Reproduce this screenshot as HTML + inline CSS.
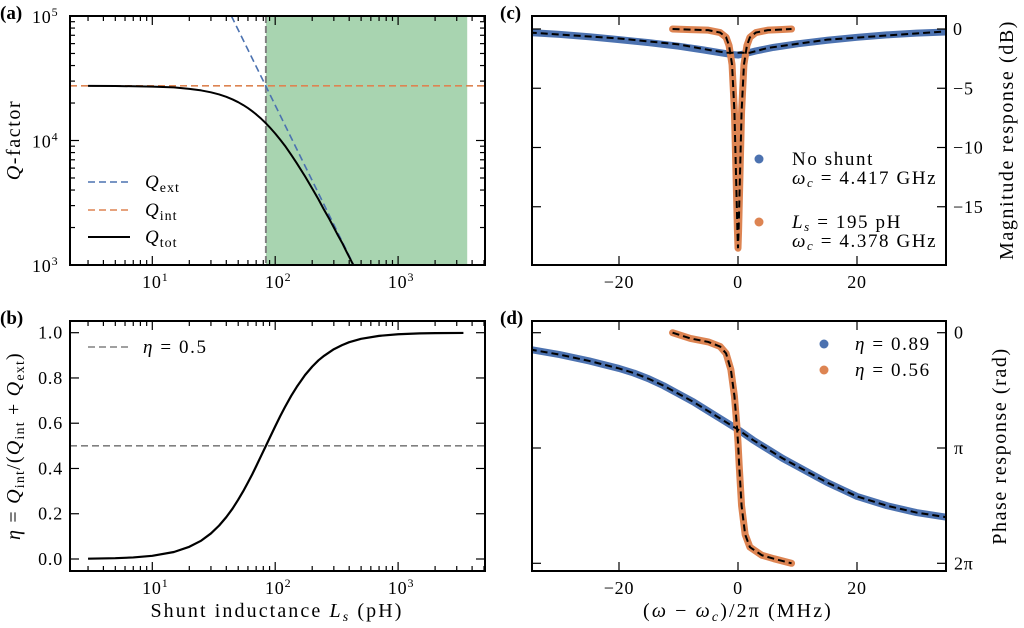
<!DOCTYPE html>
<html><head><meta charset="utf-8">
<style>
html,body{margin:0;padding:0;background:#fff;}
svg{display:block;font-family:"Liberation Serif","DejaVu Serif",serif;}
</style></head>
<body>
<svg id="fig" width="1024" height="628" viewBox="0 0 1024 628" xmlns="http://www.w3.org/2000/svg"></svg>
<script>
// ---------- data ----------
const qtotLs = [3,5,10,15,20,25,30,35,40,45,50,55,60,65,70,77,84,90,100,110,120,135,150,175,200,225,250,275,300,325,350,375,400,432];
const qtotVals = [27465,27400,27115,26700,25980,25250,24380,23450,22430,21370,20310,19250,18210,17200,16230,14940,13750,12800,11380,10130,9080,7675,6560,5150,4120,3365,2770,2350,2000,1720,1510,1314,1160,1000];
const qextLs = [44,435];
const qextVals = [100000,1000];
const qintVal = 27500;
const criticalLs = 84;
const bandEndLs = 3650;
const etaLs = [3,5,7,10,15,20,25,30,35,40,45,50,55,60,65,70,77,84,90,100,110,120,135,150,175,200,225,250,300,350,400,500,700,1000,1500,2000,3400];
const etaVals = [0.0013,0.0035,0.0069,0.014,0.031,0.054,0.081,0.113,0.148,0.185,0.223,0.262,0.30,0.338,0.374,0.41,0.457,0.5,0.534,0.586,0.632,0.671,0.721,0.761,0.813,0.85,0.878,0.898,0.927,0.945,0.958,0.973,0.986,0.993,0.997,0.998,0.999];
const etaRef = 0.5;
const blueMagX = [-35,-30,-25,-20,-15,-10,-6,-3,-1,0,1,3,6,10,15,20,25,30,35];
const blueMag = [-0.3,-0.45,-0.65,-0.9,-1.15,-1.45,-1.75,-2.0,-2.15,-2.2,-2.1,-1.85,-1.55,-1.25,-0.95,-0.7,-0.5,-0.35,-0.25];
const blueFitX = [-35,-20,-10,-4.5,-2,2,5,15,35];
const blueFit = [-0.3,-0.8,-1.3,-1.8,-2.0,-2.0,-1.6,-0.9,-0.2];
const orMagX = [-11,-8,-5,-3,-2,-1.5,-1,-0.6,-0.3,-0.1,0,0.1,0.3,0.6,1,1.5,2,3,5,7,9];
const orMag = [0,-0.05,-0.1,-0.3,-0.7,-1.4,-3,-7,-13,-17,-18.5,-17,-13,-7,-3,-1.4,-0.7,-0.3,-0.1,-0.05,0];
const bluePhX = [-35,-30,-25,-20,-17.5,-15,-12.5,-10,-7.5,-5,-2.5,0,2.5,5,7.5,10,12.5,15,17.5,20,25,30,35];
const bluePh = [0.145,0.19,0.245,0.31,0.35,0.4,0.46,0.53,0.6,0.68,0.76,0.84,0.93,1.01,1.09,1.16,1.23,1.3,1.36,1.42,1.5,1.56,1.6];
const orPhX = [-11,-8,-5,-3,-2,-1.2,-0.6,-0.2,0,0.2,0.6,1.2,2,4,6,9];
const orPh = [0,0.05,0.08,0.12,0.18,0.32,0.55,0.8,0.95,1.15,1.5,1.75,1.86,1.93,1.96,2.0];
const xTicksC = [-20,0,20];
const xTickLabelsC = ["\u221220","0","20"];
const yTicksC = [0,-5,-10,-15];
const yTickLabelsC = ["0","\u22125","\u221210","\u221215"];
const yTicksB = [0,0.2,0.4,0.6,0.8,1.0];
const yTickLabelsB = ["0.0","0.2","0.4","0.6","0.8","1.0"];
const yTicksD = [0,1,2];
const yTickLabelsD = ["0","\u03c0","2\u03c0"];

// ---------- scales ----------
const BLUE="#4c72b0", ORANGE="#dd8452";
const lx = L => 152.3 + (Math.log10(L)-1)*122.9;
const ayQ = Q => 265 - (Math.log10(Q)-3)*124.5;
const byE = e => 559 - e*226.3;
const cx = f => 738 + f*5.95;
const cyM = d => 29 - d*11.85;
const dyP = p => 332.7 + p*115.3;
const P = {a:{l:70,r:485,t:16,b:265}, b:{l:70,r:485,t:321,b:571}, c:{l:532,r:946,t:16,b:265}, d:{l:532,r:946,t:321,b:571}};
const TF = 18, TLS = 0.8;
const LF = 19, LLS = 1.6;

const NS="http://www.w3.org/2000/svg";
const svg=document.getElementById('fig');
function el(tag, parent){const e=document.createElementNS(NS,tag);(parent||svg).appendChild(e);return e;}
function set(e,o){for(const k in o)e.setAttribute(k,o[k]);return e;}
function pts(xs,ys,fx,fy){return xs.map((x,i)=>fx(x).toFixed(2)+','+fy(ys[i]).toFixed(2)).join(' ');}

const defs=el('defs');
for(const k in P){const c=el('clipPath',defs);set(c,{id:'clip-'+k});const r=el('rect',c);set(r,{x:P[k].l,y:P[k].t,width:P[k].r-P[k].l,height:P[k].b-P[k].t});}

function text(str,x,y,opts,parent){const t=el('text',parent);set(t,Object.assign({x:x,y:y,'font-size':TF,'letter-spacing':TLS,fill:'#000'},opts||{}));t.textContent=str;return t;}
function line(x1,y1,x2,y2,parent,extra){const l=el('line',parent);set(l,Object.assign({x1:x1,y1:y1,x2:x2,y2:y2,stroke:'#000','stroke-width':1.2},extra||{}));return l;}

// ---------- panel (a) ----------
const ga=el('g');
const gaClip=el('g',ga);set(gaClip,{'clip-path':'url(#clip-a)'});
const band=el('rect',gaClip);set(band,{x:lx(criticalLs),y:P.a.t,width:lx(bandEndLs)-lx(criticalLs),height:P.a.b-P.a.t,fill:'#a8d4b0'});

const vcrit=line(lx(criticalLs),P.a.t,lx(criticalLs),P.a.b,gaClip,{stroke:'#808080','stroke-width':2,'stroke-dasharray':'7,3'});

const qint=line(P.a.l,ayQ(qintVal),P.a.r,ayQ(qintVal),gaClip,{stroke:ORANGE,'stroke-width':1.6,'stroke-dasharray':'7,4'});

const qext=el('polyline',gaClip);set(qext,{points:pts(qextLs,qextVals,lx,ayQ),fill:'none',stroke:BLUE,'stroke-width':1.6,'stroke-dasharray':'7,4'});

const qtot=el('polyline',gaClip);set(qtot,{points:pts(qtotLs,qtotVals,lx,ayQ),fill:'none',stroke:'#000','stroke-width':2,'stroke-linejoin':'round'});


// ---------- panel (b) ----------
const gb=el('g');
const gbClip=el('g',gb);set(gbClip,{'clip-path':'url(#clip-b)'});
const eref=line(P.b.l,byE(etaRef),P.b.r,byE(etaRef),gbClip,{stroke:'#808080','stroke-width':1.6,'stroke-dasharray':'7,4'});

const ecur=el('polyline',gbClip);set(ecur,{points:pts(etaLs,etaVals,lx,byE),fill:'none',stroke:'#000','stroke-width':2.2,'stroke-linejoin':'round'});


// ---------- panel (c) ----------
const gc=el('g');
const gcClip=el('g',gc);set(gcClip,{'clip-path':'url(#clip-c)'});
const bm=el('polyline',gcClip);set(bm,{points:pts(blueMagX,blueMag,cx,cyM),fill:'none',stroke:BLUE,'stroke-width':7,'stroke-linejoin':'round'});

const om=el('polyline',gcClip);set(om,{points:pts(orMagX,orMag,cx,cyM),fill:'none',stroke:ORANGE,'stroke-width':7,'stroke-linejoin':'round','stroke-linecap':'round'});

const bmf=el('polyline',gcClip);set(bmf,{points:pts(blueFitX,blueFit,cx,cyM),fill:'none',stroke:'#000','stroke-width':2,'stroke-dasharray':'7,4'});

const omf=el('polyline',gcClip);set(omf,{points:pts(orMagX,orMag,cx,cyM),fill:'none',stroke:'#000','stroke-width':2,'stroke-dasharray':'7,4'});


// ---------- panel (d) ----------
const gd=el('g');
const gdClip=el('g',gd);set(gdClip,{'clip-path':'url(#clip-d)'});
const bp=el('polyline',gdClip);set(bp,{points:pts(bluePhX,bluePh,cx,dyP),fill:'none',stroke:BLUE,'stroke-width':7,'stroke-linejoin':'round'});

const op=el('polyline',gdClip);set(op,{points:pts(orPhX,orPh,cx,dyP),fill:'none',stroke:ORANGE,'stroke-width':7,'stroke-linejoin':'round','stroke-linecap':'round'});

const bpf=el('polyline',gdClip);set(bpf,{points:pts(bluePhX,bluePh,cx,dyP),fill:'none',stroke:'#000','stroke-width':2,'stroke-dasharray':'7,4'});

const opf=el('polyline',gdClip);set(opf,{points:pts(orPhX,orPh,cx,dyP),fill:'none',stroke:'#000','stroke-width':2,'stroke-dasharray':'7,4'});


// ---------- frames and ticks ----------
for(const k in P){const p=P[k];const r=el('rect');set(r,{x:p.l,y:p.t,width:p.r-p.l,height:p.b-p.t,fill:'none',stroke:'#000','stroke-width':2});
}

function xTicks(p,xs,len){xs.forEach(x=>{if(x<p.l||x>p.r)return;line(x,p.b,x,p.b-len);line(x,p.t,x,p.t+len);});}
function yTicks(p,ys,len){ys.forEach(y=>{if(y<p.t-0.5||y>p.b+0.5)return;line(p.l,y,p.l+len,y);line(p.r,y,p.r-len,y);});}
function supLabel(exp,x,y,anchor,name){const t=text('',x,y,{'text-anchor':anchor});const a=el('tspan',t);a.textContent='10';const b=el('tspan',t);set(b,{dy:-7,'font-size':12});b.textContent=exp;
return t;}

const majL=[], minL=[];
for(let d=0;d<=3;d++){for(let m=1;m<10;m++){const v=m*Math.pow(10,d);(m===1?majL:minL).push(lx(v));}}
majL.push(lx(10000));
['a','b'].forEach(k=>{xTicks(P[k],majL,9);xTicks(P[k],minL,5);
 [1,2,3].forEach(e=>supLabel(String(e),lx(Math.pow(10,e))+3,P[k].b+23,'middle','x-tick-label-'+k+'-1e'+e));});
const minQ=[];
for(let d=3;d<5;d++)for(let m=2;m<10;m++)minQ.push(ayQ(m*Math.pow(10,d)));
yTicks(P.a,[3,4,5].map(e=>ayQ(Math.pow(10,e))),9);yTicks(P.a,minQ,5);
[3,4,5].forEach(e=>supLabel(String(e),32,ayQ(Math.pow(10,e))+7,'start','y-tick-label-a-1e'+e));
yTicksB.forEach((v,i)=>{yTicks(P.b,[byE(v)],9);const t=text(yTickLabelsB[i],63,byE(v)+6,{'text-anchor':'end'});
});
['c','d'].forEach(k=>{xTicksC.forEach((v,i)=>{xTicks(P[k],[cx(v)],9);const t=text(xTickLabelsC[i],cx(v),P[k].b+23,{'text-anchor':'middle'});
});});
yTicksC.forEach((v,i)=>{yTicks(P.c,[cyM(v)],9);const t=text(yTickLabelsC[i],953,cyM(v)+6,{'text-anchor':'start'});
});
yTicksD.forEach((v,i)=>{yTicks(P.d,[dyP(v)],9);const t=text(yTickLabelsD[i],954,dyP(v)+6,{'text-anchor':'start'});
});

// ---------- legends ----------
function legLine(x,y,stroke,dash,name){const l=line(x,y,x+42,y,null,{stroke:stroke,'stroke-width':dash?1.6:2,'stroke-dasharray':dash?'7,4':'none'});}
function qLabel(sub,x,y,name){const t=text('',x,y,{'font-size':LF,'letter-spacing':1});t.innerHTML='<tspan font-style="italic">Q</tspan><tspan dy="4" font-size="14">'+sub+'</tspan>';
}
legLine(88,182,BLUE,true,'legend-q-ext-line');qLabel('ext',145,188,'legend-q-ext-label');
legLine(88,210,ORANGE,true,'legend-q-int-line');qLabel('int',145,216,'legend-q-int-label');
legLine(88,237,'#000',false,'legend-q-tot-line');qLabel('tot',145,243,'legend-q-tot-label');
legLine(88,347,'#808080',true,'legend-eta-half-line');
let t;
t=text('',143,353,{'font-size':LF,'letter-spacing':LLS});t.innerHTML='<tspan font-style="italic">η</tspan> = 0.5';
function dot(x,y,c,name){const d=el('circle');set(d,{cx:x,cy:y,r:4.5,fill:c});}
dot(759,159,BLUE,'legend-no-shunt-marker');dot(759,222,ORANGE,'legend-shunt-marker');
t=text('No shunt',792,165,{'font-size':LF,'letter-spacing':LLS});
t=text('',792,184,{'font-size':LF,'letter-spacing':LLS});t.innerHTML='<tspan font-style="italic">ω</tspan><tspan font-size="13" dy="3" font-style="italic">c</tspan><tspan dy="-3"> = 4.417 GHz</tspan>';
t=text('',792,228,{'font-size':LF,'letter-spacing':LLS});t.innerHTML='<tspan font-style="italic">L</tspan><tspan font-size="13" dy="3" font-style="italic">s</tspan><tspan dy="-3"> = 195 pH</tspan>';
t=text('',792,247,{'font-size':LF,'letter-spacing':LLS});t.innerHTML='<tspan font-style="italic">ω</tspan><tspan font-size="13" dy="3" font-style="italic">c</tspan><tspan dy="-3"> = 4.378 GHz</tspan>';
dot(824,344,BLUE,'legend-eta-089-marker');dot(824,370,ORANGE,'legend-eta-056-marker');
t=text('',855,350,{'font-size':LF,'letter-spacing':LLS});t.innerHTML='<tspan font-style="italic">η</tspan> = 0.89';
t=text('',855,376,{'font-size':LF,'letter-spacing':LLS});t.innerHTML='<tspan font-style="italic">η</tspan> = 0.56';

// ---------- axis labels & panel letters ----------
t=text('',0,0,{'font-size':LF+1,'letter-spacing':LLS,'text-anchor':'middle',transform:'translate(20,140) rotate(-90)'});t.innerHTML='<tspan font-style="italic">Q</tspan>-factor';
t=text('',0,0,{'font-size':LF+1,'letter-spacing':1.2,'text-anchor':'middle',transform:'translate(20,446) rotate(-90)'});t.innerHTML='<tspan font-style="italic">η</tspan> = <tspan font-style="italic">Q</tspan><tspan font-size="14" dy="4">int</tspan><tspan dy="-4">/(</tspan><tspan font-style="italic">Q</tspan><tspan font-size="14" dy="4">int</tspan><tspan dy="-4"> + </tspan><tspan font-style="italic">Q</tspan><tspan font-size="14" dy="4">ext</tspan><tspan dy="-4">)</tspan>';
t=text('',277,617,{'font-size':LF+1,'letter-spacing':2.1,'text-anchor':'middle'});t.innerHTML='Shunt inductance <tspan font-style="italic">L</tspan><tspan font-size="14" dy="4" font-style="italic">s</tspan><tspan dy="-4"> (pH)</tspan>';
t=text('',738,617,{'font-size':LF+1,'letter-spacing':2.1,'text-anchor':'middle'});t.innerHTML='(<tspan font-style="italic">ω</tspan> − <tspan font-style="italic">ω</tspan><tspan font-size="14" dy="4" font-style="italic">c</tspan><tspan dy="-4">)/2π (MHz)</tspan>';
t=text('Magnitude response (dB)',0,0,{'font-size':LF+1,'letter-spacing':LLS,'text-anchor':'middle',transform:'translate(1013,140) rotate(-90)'});
t=text('Phase response (rad)',0,0,{'font-size':LF+1,'letter-spacing':LLS,'text-anchor':'middle',transform:'translate(1006,446) rotate(-90)'});
[['(a)',0,19],['(c)',500,19],['(b)',0,324],['(d)',500,324]].forEach(a=>{const tt=text(a[0],a[1],a[2],{'font-size':19,'font-weight':'bold','letter-spacing':0});});
</script>
</body></html>
